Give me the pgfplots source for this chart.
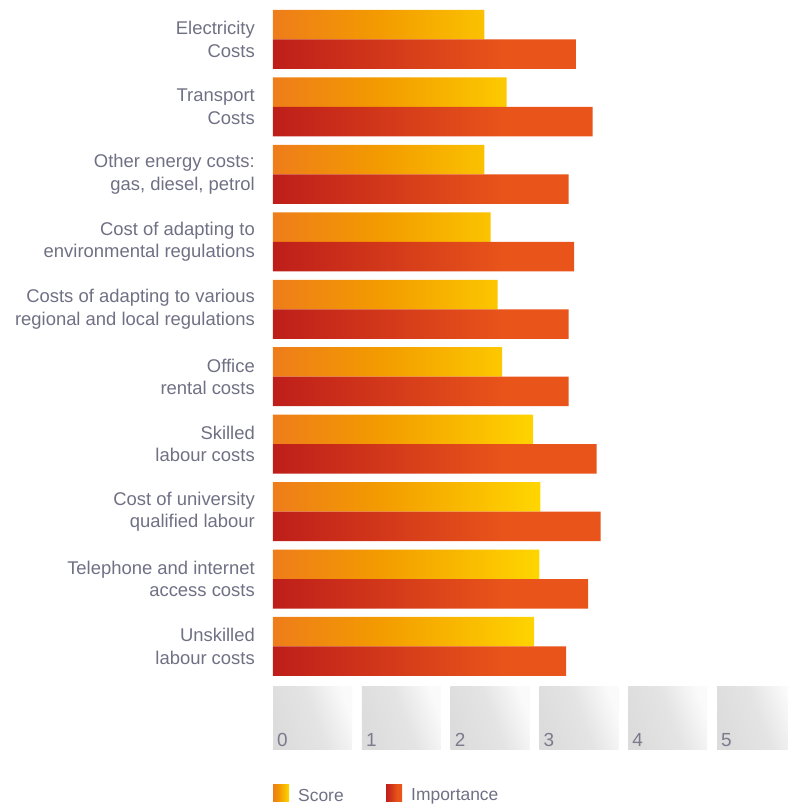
\documentclass[border=0pt]{standalone}
\usepackage{pgfplots}
\pgfplotsset{compat=1.18}
\usepackage{fontspec}
\setmainfont{Liberation Sans}
\definecolor{scoreA}{HTML}{EE7D1A}
\definecolor{scoreB}{HTML}{F39B00}
\definecolor{scoreC}{HTML}{FFD600}
\definecolor{impA}{HTML}{BE1E1A}
\definecolor{impB}{HTML}{E8541A}
\definecolor{labelgray}{HTML}{707085}
\definecolor{tickgray}{HTML}{7B7B8D}
\definecolor{boxA}{HTML}{DCDCDC}
\definecolor{boxB}{HTML}{E4E4E4}
\definecolor{boxC}{HTML}{FAFAFA}
\pgfdeclarehorizontalshading{scoreshade}{100bp}{color(0bp)=(scoreA); color(25bp)=(scoreA); color(45bp)=(scoreB); color(75bp)=(scoreC); color(100bp)=(scoreC)}
\pgfdeclarehorizontalshading{impshade}{100bp}{color(0bp)=(impA); color(25bp)=(impA); color(60bp)=(impB); color(100bp)=(impB)}
\pgfdeclarehorizontalshading{boxshade}{100bp}{color(0bp)=(boxA); color(25bp)=(boxA); color(52bp)=(boxB); color(75bp)=(boxC); color(100bp)=(boxC)}
\begin{document}
\begin{tikzpicture}
\useasboundingbox (-273bp,0bp) rectangle (515bp,805bp);
\begin{axis}[
  at={(0bp,0bp)}, anchor=south west,
  scale only axis, width=515bp, height=805bp,
  xmin=0, xmax=5.8, ymin=-0.5857, ymax=11.351, y dir=reverse,
  axis line style={draw=none},
  xtick=\empty,
  ytick={0,...,9},
  yticklabels={{Electricity\\Costs},{Transport\\Costs},{Other energy costs:\\gas, diesel, petrol},{Cost of adapting to\\environmental regulations},{Costs of adapting to various\\regional and local regulations},{Office\\rental costs},{Skilled\\labour costs},{Cost of university\\qualified labour},{Telephone and internet\\access costs},{Unskilled\\labour costs}},
  major tick length=0pt,
  yticklabel style={align=right, font=\fontsize{18.5}{22.5}\selectfont, text=labelgray, inner sep=0pt, xshift=-18bp},
  xbar, bar width=29.5bp, clip=false,
]
\addplot[draw=none, shade, shading=scoreshade, bar shift=14.75bp] coordinates {
 (2.38,0) (2.63,1) (2.38,2) (2.45,3) (2.53,4) (2.58,5) (2.93,6) (3.01,7) (3.00,8) (2.94,9)};
\addplot[draw=none, shade, shading=impshade, bar shift=-14.75bp] coordinates {
 (3.41,0) (3.60,1) (3.33,2) (3.39,3) (3.33,4) (3.33,5) (3.645,6) (3.69,7) (3.55,8) (3.30,9)};
\end{axis}
\foreach \k in {0,...,5}{
  \shade[shading=boxshade, shading angle=20] (\k*88.8bp,55bp) rectangle ++(79bp,63bp);
  \node[anchor=base west, inner sep=0pt, text=tickgray, font=\fontsize{19}{21}\selectfont] at (\k*88.8bp+4bp,58bp) {\k};
}
\shade[shading=scoreshade] (0bp,3bp) rectangle (16bp,20bp);
\node[anchor=base west, inner sep=0pt, text=labelgray, font=\fontsize{17.5}{20}\selectfont] at (25bp,4bp) {Score};
\shade[shading=impshade] (113bp,3bp) rectangle (129bp,20bp);
\node[anchor=base west, inner sep=0pt, text=labelgray, font=\fontsize{17.5}{20}\selectfont] at (138bp,4.5bp) {Importance};
\end{tikzpicture}
\end{document}
